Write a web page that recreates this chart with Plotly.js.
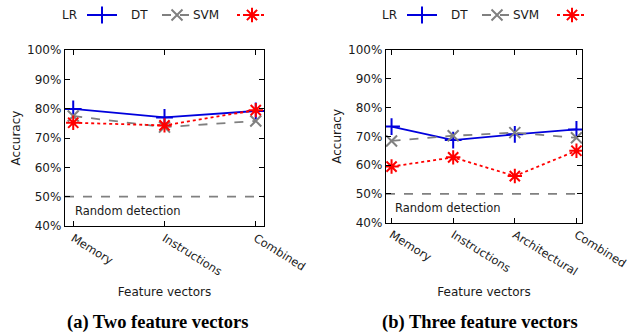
<!DOCTYPE html>
<html>
<head>
<meta charset="utf-8">
<script src="https://cdn.plot.ly/plotly-3.0.1.min.js"></script>
<style>
  html, body { margin: 0; padding: 0; background: #fff; }
  #chart { width: 629px; height: 334px; }
</style>
</head>
<body>
<div id="chart"></div>
<script>
// Accuracy per feature vector, two-vector and three-vector experiments
const featuresTwo = ["Memory", "Instructions", "Combined"];
const lrTwo  = [79.9, 77.0, 79.2];
const dtTwo  = [77.5, 73.7, 75.8];
const svmTwo = [75.2, 74.3, 79.5];

const featuresThree = ["Memory", "Instructions", "Architectural", "Combined"];
const lrThree  = [73.4, 68.7, 70.7, 72.4];
const dtThree  = [68.4, 70.2, 71.3, 69.5];
const svmThree = [59.5, 62.7, 56.2, 65.0];

const randomLevel = 50;
const yTicks = [40, 50, 60, 70, 80, 90, 100];
const yTickLabels = ["40%", "50%", "60%", "70%", "80%", "90%", "100%"];
const modelNames = ["LR", "DT", "SVM"];

// figure geometry in pixels, converted to paper fractions
const W = 629, H = 334;
const px = x => x / W;
const py = y => 1 - y / H;

const FONT = "DejaVu Sans, Verdana, sans-serif";
const SERIF = "Liberation Serif, Times New Roman, serif";
const TXT = "#1a1a1a";

const styles = [
  { color: "#0000dd", dash: "solid", symbol: "cross-thin", size: 12 },
  { color: "#808080", dash: "dash",  symbol: "x-thin",     size: 11 },
  { color: "#ff0000", dash: "dot",   symbol: "asterisk",   size: 12 }
];

function series(cats, vals, i, xa, ya, legendId) {
  const s = styles[i];
  return {
    type: "scatter", mode: "lines+markers",
    x: cats, y: vals, xaxis: xa, yaxis: ya,
    name: " ", legend: legendId, showlegend: true,
    line: { color: s.color, width: 1.8, dash: s.dash },
    marker: { symbol: s.symbol, size: s.size, color: s.color,
              line: { color: s.color, width: 2 } },
    hoverinfo: "x+y"
  };
}

const data = [];
[lrTwo, dtTwo, svmTwo].forEach((v, i) => data.push(series(featuresTwo, v, i, "x", "y", "legend")));
[lrThree, dtThree, svmThree].forEach((v, i) => data.push(series(featuresThree, v, i, "x2", "y2", "legend2")));

function xAxis(domain, n, anchor) {
  return {
    domain: domain, anchor: anchor, type: "category",
    range: [-0.09, n - 1 + 0.09],
    showline: true, linecolor: "#000", linewidth: 1.2, mirror: "ticks",
    ticks: "inside", ticklen: 5, tickcolor: "#000", tickwidth: 1,
    tickangle: 32, showgrid: false, zeroline: false,
    tickfont: { family: FONT, size: 11.5, color: TXT },
    title: { text: "Feature vectors", font: { family: FONT, size: 12, color: TXT }, standoff: 10 },
    automargin: false
  };
}
function yAxis(domain, anchor) {
  return {
    domain: domain, anchor: anchor, range: [40, 100],
    tickmode: "array", tickvals: yTicks, ticktext: yTickLabels,
    showline: true, linecolor: "#000", linewidth: 1.2, mirror: "ticks",
    ticks: "inside", ticklen: 5, tickcolor: "#000", tickwidth: 1,
    showgrid: false, zeroline: false,
    tickfont: { family: FONT, size: 12, color: TXT },
    title: { text: "Accuracy", font: { family: FONT, size: 12, color: TXT }, standoff: 3 },
    automargin: false
  };
}

const legendBase = {
  orientation: "h", xanchor: "left", yanchor: "middle",
  bgcolor: "rgba(0,0,0,0)", borderwidth: 0,
  font: { family: FONT, size: 12, color: TXT },
  entrywidth: 30, entrywidthmode: "pixels", tracegroupgap: 0, itemwidth: 30
};

const annotations = [];
// legend labels, written before each sample
[[79, 150, 221], [399, 470, 541]].forEach(row => {
  row.forEach((xr, i) => annotations.push({
    xref: "paper", yref: "paper", x: px(xr), y: py(15),
    xanchor: "right", yanchor: "middle", showarrow: false,
    text: modelNames[i], font: { family: FONT, size: 12, color: TXT }
  }));
});
// random baseline labels
[["x domain", "y", 0.04], ["x2 domain", "y2", 0.035]].forEach(([xr, yr, xx]) => annotations.push({
  xref: xr, yref: yr, x: xx, y: 45, xanchor: "left", yanchor: "middle",
  showarrow: false, text: "Random detection",
  font: { family: FONT, size: 11.5, color: TXT }
}));
// panel captions
annotations.push({
  xref: "paper", yref: "paper", x: px(157), y: py(322), xanchor: "center", yanchor: "middle",
  showarrow: false, text: "<b>(a) Two feature vectors</b>",
  font: { family: SERIF, size: 18.5, color: "#000" }
});
annotations.push({
  xref: "paper", yref: "paper", x: px(480), y: py(322), xanchor: "center", yanchor: "middle",
  showarrow: false, text: "<b>(b) Three feature vectors</b>",
  font: { family: SERIF, size: 18.5, color: "#000" }
});

const baseline = (xr, yr) => ({
  type: "line", xref: xr, yref: yr, x0: 0, x1: 1, y0: randomLevel, y1: randomLevel,
  line: { color: "#808080", width: 1.8, dash: "dash" }, layer: "below"
});

const layout = {
  width: W, height: H,
  margin: { l: 0, r: 0, t: 0, b: 0 },
  paper_bgcolor: "#fff", plot_bgcolor: "#fff",
  xaxis: xAxis([px(65), px(264)], featuresTwo.length, "y"),
  yaxis: yAxis([py(226), py(50)], "x"),
  xaxis2: xAxis([px(386), px(582)], featuresThree.length, "y2"),
  yaxis2: yAxis([py(222.7), py(50)], "x2"),
  legend: Object.assign({}, legendBase, { x: px(82), y: py(15) }),
  legend2: Object.assign({}, legendBase, { x: px(402), y: py(15) }),
  shapes: [baseline("x domain", "y"), baseline("x2 domain", "y2")],
  annotations: annotations
};

Plotly.newPlot("chart", data, layout, { displayModeBar: false, staticPlot: true });
</script>
</body>
</html>
